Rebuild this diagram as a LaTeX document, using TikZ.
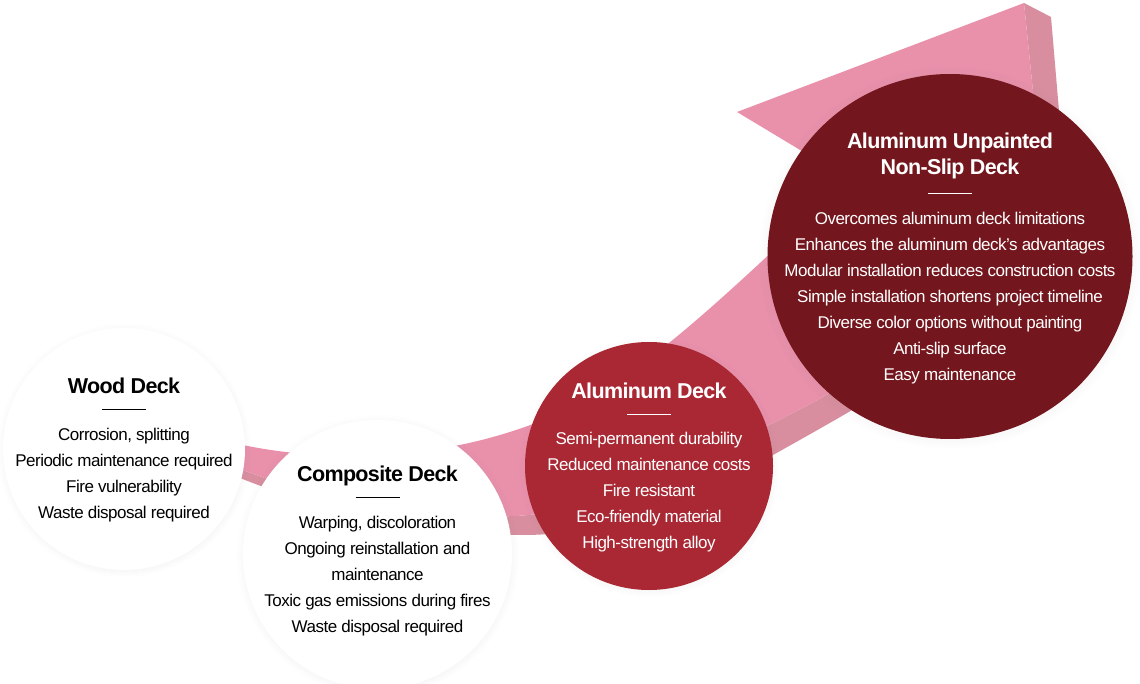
\documentclass[tikz,border=0pt]{standalone}
\usepackage{fontspec}
\setmainfont{Liberation Sans}[LetterSpace=-3]
\usetikzlibrary{shadows}
\definecolor{bandfront}{RGB}{233,144,171}
\definecolor{bandside}{RGB}{216,142,158}
\definecolor{alured}{RGB}{169,40,52}
\definecolor{deepred}{RGB}{116,22,29}

\begin{document}
\begin{tikzpicture}[x=1pt, y=-1pt,
  deck/.style={circle, inner sep=0pt, circular drop shadow={shadow xshift=0pt, shadow yshift=-1pt, shadow scale=1.05, opacity=0.15}},
  decktitle/.style={font=\fontsize{21.5}{26}\selectfont\bfseries, align=center, inner sep=0pt},
  deckbody/.style={font=\fontsize{17}{26}\selectfont, align=center, inner sep=0pt},
  deckrule/.style={line width=1pt}]

\useasboundingbox (0,0) rectangle (1140,684);

\fill[bandside] (1024,3) -- (1051,17) -- (1070,240) .. controls (980,340) and (880,395) .. (773,455) .. controls (690,500) and (610,535) .. (523,535) .. controls (420,535) and (320,510) .. (240,478) -- (240,469) .. controls (320,500) and (430,520) .. (515,516) .. controls (600,512) and (686,466) .. (773,423) .. controls (860,380) and (960,320) .. (1045,210) -- cycle;
\fill[bandfront] (238,444) .. controls (330,464) and (450,462) .. (560,413) .. controls (650,376) and (760,260) .. (850,180) -- (737,112) -- (1024,3) -- (1045,210) .. controls (960,320) and (860,380) .. (773,423) .. controls (686,466) and (600,512) .. (515,516) .. controls (430,520) and (320,500) .. (240,469) -- cycle;

\node[deck, fill=white, minimum size=242] (wood) at (124,449) {};
\node[deck, fill=white, minimum size=269] (composite) at (377.5,554.5) {};
\node[deck, fill=alured, minimum size=248] (alu) at (649,466) {};
\node[deck, fill=deepred, minimum size=365] (unpainted) at (950,256.5) {};

\node[decktitle] (woodtitle) at (124,386) {Wood Deck};
\node[deckbody] (woodbody) at (124,475) {Corrosion, splitting\\Periodic maintenance required\\Fire vulnerability\\Waste disposal required};

\node[decktitle] (compositetitle) at (377.5,476) {Composite Deck};
\node[deckbody] (compositebody) at (377.5,576) {Warping, discoloration\\Ongoing reinstallation and\\maintenance\\Toxic gas emissions during fires\\Waste disposal required};

\node[decktitle, white] (alutitle) at (649,391) {Aluminum Deck};
\node[deckbody, white] (alubody) at (649,492) {Semi-permanent durability\\Reduced maintenance costs\\Fire resistant\\Eco-friendly material\\High-strength alloy};

\node[decktitle, white] (unpaintedtitle) at (950,156) {Aluminum Unpainted\\Non-Slip Deck};
\node[deckbody, white] (unpaintedbody) at (950,298) {Overcomes aluminum deck limitations\\Enhances the aluminum deck's advantages\\Modular installation reduces construction costs\\Simple installation shortens project timeline\\Diverse color options without painting\\Anti-slip surface\\Easy maintenance};

\foreach \cx/\ry/\col in {124/409/black, 377.5/497/black, 649/414/white, 950/194/white}
{
	\draw[deckrule, \col] (\cx-22,\ry) -- (\cx+22,\ry);
}

\end{tikzpicture}
\end{document}
